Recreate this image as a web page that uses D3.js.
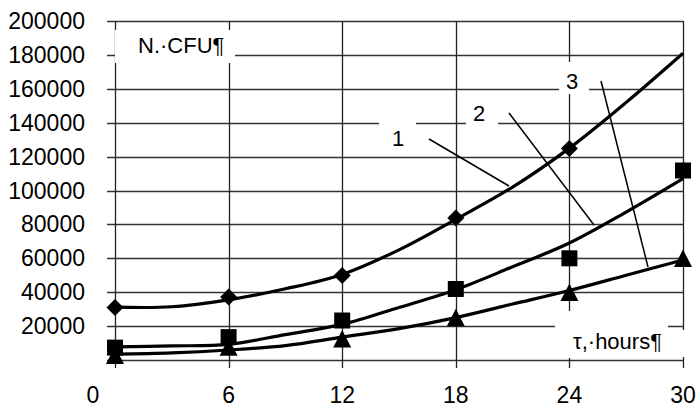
<!DOCTYPE html>
<html lang="en">
<head>
    <meta charset='utf-8'>
    <title>CFU growth</title>
    <style>
        body{
            margin: 0;
            background: #fff;
        }
        text {
            font-family: "Liberation Sans", Arial, sans-serif;
            font-size: 22px;
            fill: #000;
        }
        .tick {
            font-size: 23px;
        }
    </style>
</head>
<body>
<div id="chart"></div>
<script src='https://cdn.jsdelivr.net/npm/d3@7/dist/d3.min.js'></script>
<script>
    var width = 696, height = 407;

    // measured points
    var hours = [0, 6, 12, 18, 24, 30];
    var cfu1 = [31000, 37200, 49900, 83800, 124800, null];
    var cfu2 = [7300, 13500, 23300, 41900, 60000, 111800];
    var cfu3 = [2600, 7500, 12400, 25000, 39800, 59900];

    // trend curves
    var trendHours = [0, 3, 6, 9, 12, 15, 18, 21, 24, 27, 30];
    var trend1 = [31200, 31400, 35500, 42000, 50500, 65000, 83000, 102000, 125000, 152000, 181000];
    var trend2 = [7700, 8300, 9200, 15000, 21000, 31000, 41500, 55000, 69000, 87300, 107000];
    var trend3 = [3500, 4200, 5900, 8500, 13500, 18500, 25000, 33000, 41000, 50000, 59000];

    var yTicks = [0, 20000, 40000, 60000, 80000, 100000, 120000, 140000, 160000, 180000, 200000];
    var xTicks = [0, 6, 12, 18, 24, 30];

    var x = d3.scaleLinear().domain([0, 30]).range([115, 683]);
    var y = d3.scaleLinear().domain([0, 200000]).range([360, 21]);

    var svg = d3.select("#chart").append("svg")
        .attr("width", width).attr("height", height);

    // grid
    svg.append("g").selectAll("line")
        .data(yTicks).enter()
        .append("line")
        .attr("x1", 107).attr("x2", x(30) + 0.5)
        .attr("y1", function(d){ return Math.round(y(d)) + 0.5; })
        .attr("y2", function(d){ return Math.round(y(d)) + 0.5; })
        .attr("stroke", "#333").attr("stroke-width", 1.3);

    svg.append("g").selectAll("line")
        .data(xTicks).enter()
        .append("line")
        .attr("x1", function(d){ return Math.round(x(d)) + 0.5; })
        .attr("x2", function(d){ return Math.round(x(d)) + 0.5; })
        .attr("y1", y(200000)).attr("y2", 368)
        .attr("stroke", "#222").attr("stroke-width", 1.3);

    // tick labels
    svg.append("g").selectAll("text")
        .data(yTicks.slice(1)).enter()
        .append("text")
        .attr("class", "tick")
        .attr("x", 85)
        .attr("y", function(d){ return y(d) + 8; })
        .style("text-anchor", "end")
        .text(function(d){ return d; });

    svg.append("g").selectAll("text")
        .data(xTicks).enter()
        .append("text")
        .attr("class", "tick")
        .attr("x", function(d){ return d === 0 ? x(d) - 22 : x(d); })
        .attr("y", 403)
        .style("text-anchor", "middle")
        .text(function(d){ return d; });

    // label boxes that blank the grid
    var boxes = [
        [115, 30, 120, 33],
        [379, 116, 37, 34],
        [466, 98, 32, 30],
        [559, 62, 30, 32],
        [555, 311, 113, 47],
        [668, 330, 22, 27]
    ];
    svg.append("g").selectAll("rect")
        .data(boxes).enter()
        .append("rect")
        .attr("x", function(d){ return d[0]; })
        .attr("y", function(d){ return d[1]; })
        .attr("width", function(d){ return d[2]; })
        .attr("height", function(d){ return d[3]; })
        .attr("fill", "#fff");

    svg.append("text").attr("x", 138).attr("y", 53).text("N.·CFU¶");
    svg.append("text").attr("x", 573).attr("y", 349).text("τ,·hours¶");

    var callouts = [
        {name: "1", tx: 398, ty: 146, x1: 429, y1: 139, x2: 509, y2: 186},
        {name: "2", tx: 479, ty: 121, x1: 509, y1: 113, x2: 594, y2: 225},
        {name: "3", tx: 572, ty: 89, x1: 601, y1: 81, x2: 648, y2: 267}
    ];
    svg.append("g").selectAll("text")
        .data(callouts).enter()
        .append("text")
        .attr("x", function(d){ return d.tx; })
        .attr("y", function(d){ return d.ty; })
        .style("text-anchor", "middle")
        .text(function(d){ return d.name; });
    svg.append("g").selectAll("line")
        .data(callouts).enter()
        .append("line")
        .attr("x1", function(d){ return d.x1; })
        .attr("y1", function(d){ return d.y1; })
        .attr("x2", function(d){ return d.x2; })
        .attr("y2", function(d){ return d.y2; })
        .attr("stroke", "#000").attr("stroke-width", 1.5);

    // trend curves
    var line = d3.line()
        .x(function(d){ return x(d[0]); })
        .y(function(d){ return y(d[1]); })
        .curve(d3.curveCatmullRom);

    [trend1, trend2, trend3].forEach(function(t){
        svg.append("path")
            .datum(d3.zip(trendHours, t))
            .attr("d", line)
            .attr("fill", "none")
            .attr("stroke", "#000")
            .attr("stroke-width", 3.2);
    });

    // markers
    var shapes = {
        diamond: "M0,-8.5L8.5,0L0,8.5L-8.5,0Z",
        square: "M-8,-8H8V8H-8Z",
        triangle: "M0,-9L9,8.5H-9Z"
    };
    var series = [
        {vals: cfu1, shape: "diamond"},
        {vals: cfu2, shape: "square"},
        {vals: cfu3, shape: "triangle"}
    ];
    series.forEach(function(s){
        var pts = d3.zip(hours, s.vals).filter(function(d){ return d[1] !== null; });
        svg.append("g").selectAll("path")
            .data(pts).enter()
            .append("path")
            .attr("d", shapes[s.shape])
            .attr("transform", function(d){ return "translate(" + x(d[0]) + "," + y(d[1]) + ")"; })
            .attr("fill", "#000");
    });
</script>
</body>
</html>
